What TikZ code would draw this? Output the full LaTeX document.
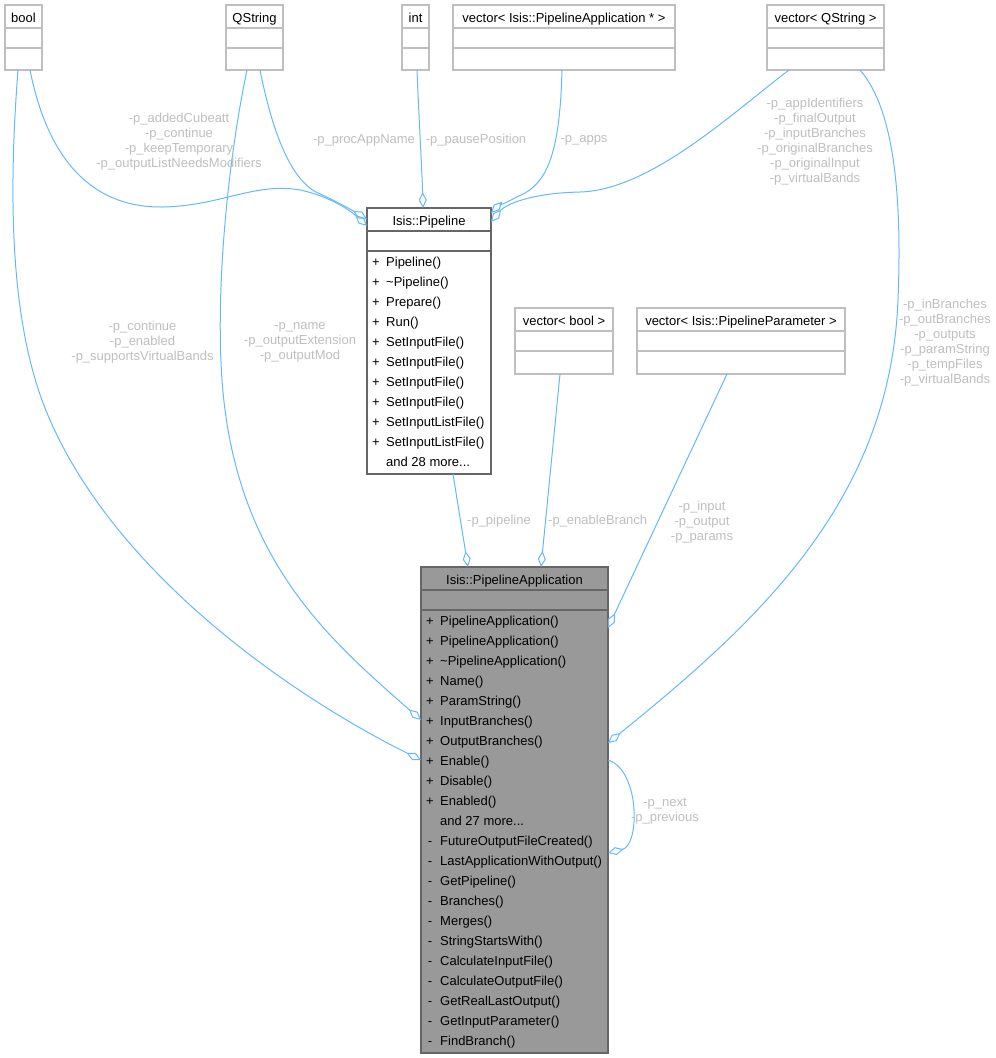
\documentclass[tikz,border=0pt]{standalone}
\usepackage{fontspec}
\setmainfont{Liberation Sans}
\usetikzlibrary{arrows.meta}

\definecolor{edgeblue}{HTML}{63B8FF}
\definecolor{labelgrey}{HTML}{BEBEBE}
\definecolor{boxgrey}{HTML}{BFBFBF}
\definecolor{docborder}{HTML}{666666}
\definecolor{docfill}{HTML}{999999}

\newcommand\moredots{...}

\tikzset{
  classbox/.style={draw=boxgrey, line width=1.3pt, anchor=north west, inner sep=0pt, outer sep=0pt},
  docbox/.style={classbox, draw=docborder},
  boxtitle/.style={font=\fontsize{13}{15}\selectfont, inner sep=0pt, text height=9.4pt, text depth=0pt},
  member/.style={font=\fontsize{13}{15}\selectfont, inner sep=0pt, text height=9.4pt, text depth=0pt, anchor=west},
  sign/.style={font=\fontsize{13}{15}\selectfont, inner sep=0pt, text height=9.4pt, text depth=0pt},
  rel/.style={font=\fontsize{13}{15}\selectfont, text=labelgrey, align=center, inner sep=0pt},
  uses/.style={draw=edgeblue, line width=1pt,
    -{Diamond[open, length=16pt, width=8pt, line width=1pt]}},
}

\begin{document}
\begin{tikzpicture}[x=1pt, y=-1pt]
\useasboundingbox (0,0) rectangle (996,1058);

% top row: used types
\node[classbox, minimum width=37pt, minimum height=65pt] (bool) at (5,5) {};
\node[classbox, minimum width=57pt, minimum height=65pt] (qstring) at (226,5) {};
\node[classbox, minimum width=27pt, minimum height=65pt] (int) at (402,5) {};
\node[classbox, minimum width=222pt, minimum height=65pt] (vecapp) at (453,5) {};
\node[classbox, minimum width=117pt, minimum height=65pt] (vecqstring) at (767,5) {};
% middle row
\node[docbox, fill=white, minimum width=124pt, minimum height=266pt] (pipe) at (367,208) {};
\node[classbox, minimum width=98pt, minimum height=66pt] (vecbool) at (515,308) {};
\node[classbox, minimum width=208pt, minimum height=66pt] (vecparam) at (637,308) {};
% bottom: the class itself
\node[docbox, fill=docfill, minimum width=187pt, minimum height=486pt] (app) at (421,567) {};

% compartments and titles
\foreach \b/\t in {bool/bool, qstring/QString, int/int, vecapp/vector< Isis::PipelineApplication * >,
    vecqstring/vector< QString >, pipe/Isis::Pipeline, vecbool/vector< bool >,
    vecparam/vector< Isis::PipelineParameter >, app/Isis::PipelineApplication} {
  \draw[draw=boxgrey, line width=1.3pt] ([yshift=-23pt]\b.north west) -- ([yshift=-23pt]\b.north east);
  \draw[draw=boxgrey, line width=1.3pt] ([yshift=-43pt]\b.north west) -- ([yshift=-43pt]\b.north east);
  \node[boxtitle] (\b-title) at ([yshift=-12.5pt]\b.north) {\t};
}
\foreach \b in {pipe, app} {
  \draw[draw=docborder, line width=1.3pt] ([yshift=-23pt]\b.north west) -- ([yshift=-23pt]\b.north east);
  \draw[draw=docborder, line width=1.3pt] ([yshift=-43pt]\b.north west) -- ([yshift=-43pt]\b.north east);
}

% members of Isis::Pipeline
\foreach \s/\m [count=\i from 0] in {+/Pipeline(), +/\textasciitilde Pipeline(), +/Prepare(), +/Run(),
    +/SetInputFile(), +/SetInputFile(), +/SetInputFile(), +/SetInputFile(),
    +/SetInputListFile(), +/SetInputListFile(), {}/and 28 more\moredots} {
  \node[sign] (pipe-s\i) at (376,262+20*\i) {\s};
  \node[member] (pipe-m\i) at (386,262+20*\i) {\m};
}

% members of Isis::PipelineApplication
\foreach \s/\m [count=\i from 0] in {+/PipelineApplication(), +/PipelineApplication(),
    +/\textasciitilde PipelineApplication(), +/Name(), +/ParamString(), +/InputBranches(),
    +/OutputBranches(), +/Enable(), +/Disable(), +/Enabled(), {}/and 27 more\moredots,
    -/FutureOutputFileCreated(), -/LastApplicationWithOutput(), -/GetPipeline(),
    -/Branches(), -/Merges(), -/StringStartsWith(), -/CalculateInputFile(),
    -/CalculateOutputFile(), -/GetRealLastOutput(), -/GetInputParameter(), -/FindBranch()} {
  \node[sign] (app-s\i) at (430,621+20*\i) {\s};
  \node[member] (app-m\i) at (440,621+20*\i) {\m};
}

% relations into Isis::Pipeline
\draw[uses] ([xshift=6.5pt]bool.south) .. controls (50,170) and (100,208) .. (163,207)
  .. controls (220,206) and (255,182) .. (300,190) .. controls (330,196) and (352,212) .. ([yshift=-18pt]pipe.north west);
\draw[uses] ([xshift=5.5pt]qstring.south) .. controls (272,130) and (290,180) .. (318,193)
  .. controls (340,203) and (355,212) .. ([yshift=-11pt]pipe.north west);
\draw[uses] ([xshift=1.5pt]int.south) .. controls (419,120) and (422,170) .. ([xshift=-6pt]pipe.north);
\draw[uses] ([xshift=-2pt]vecapp.south) .. controls (560,150) and (548,180) .. (525,193)
  .. controls (505,203) and (496,208) .. ([yshift=-5pt]pipe.north east);
\draw[uses] ([xshift=-36.5pt]vecqstring.south) .. controls (730,115) and (650,190) .. (580,192)
  .. controls (530,193) and (505,205) .. ([yshift=-14pt]pipe.north east);

% relations into Isis::PipelineApplication
\draw[uses] ([xshift=-5.5pt]bool.south) .. controls (8,200) and (10,330) .. (50,420)
  .. controls (120,580) and (300,700) .. ([yshift=-193pt]app.north west);
\draw[uses] ([xshift=-7.5pt]qstring.south) .. controls (230,150) and (215,280) .. (222,380)
  .. controls (235,560) and (330,640) .. ([yshift=-153pt]app.north west);
\draw[uses] ([xshift=24pt]pipe.south) -- ([xshift=-46.5pt]app.north);
\draw[uses] ([xshift=-4pt]vecbool.south) -- ([xshift=26.5pt]app.north);
\draw[uses] ([xshift=-14pt]vecparam.south) -- ([yshift=-61pt]app.north east);
\draw[uses] ([xshift=34.5pt]vecqstring.south) .. controls (895,110) and (902,200) .. (898,300)
  .. controls (890,500) and (760,620) .. ([yshift=-176pt]app.north east);
\draw[uses] ([yshift=-193pt]app.north east) .. controls (640,770) and (640,845) .. ([yshift=-286pt]app.north east);

% relation labels
\node[rel] (l-bool-pipe) at (179,141.5) {-p\_addedCubeatt\\-p\_continue\\-p\_keepTemporary\\-p\_outputListNeedsModifiers};
\node[rel] (l-qstring-pipe) at (364,140) {-p\_procAppName};
\node[rel] (l-int-pipe) at (476,140) {-p\_pausePosition};
\node[rel] (l-vecapp-pipe) at (584,140) {-p\_apps};
\node[rel] (l-vecqstring-pipe) at (815,141.5) {-p\_appIdentifiers\\-p\_finalOutput\\-p\_inputBranches\\-p\_originalBranches\\-p\_originalInput\\-p\_virtualBands};
\node[rel] (l-bool-app) at (142.5,342.5) {-p\_continue\\-p\_enabled\\-p\_supportsVirtualBands};
\node[rel] (l-qstring-app) at (300,342.5) {-p\_name\\-p\_outputExtension\\-p\_outputMod};
\node[rel] (l-pipe-app) at (499,521.5) {-p\_pipeline};
\node[rel] (l-vecbool-app) at (597.7,521.5) {-p\_enableBranch};
\node[rel] (l-vecparam-app) at (702,522) {-p\_input\\-p\_output\\-p\_params};
\node[rel] (l-vecqstring-app) at (945,343) {-p\_inBranches\\-p\_outBranches\\-p\_outputs\\-p\_paramString\\-p\_tempFiles\\-p\_virtualBands};
\node[rel] (l-app-app) at (665,811) {-p\_next\\-p\_previous};
\end{tikzpicture}
\end{document}
